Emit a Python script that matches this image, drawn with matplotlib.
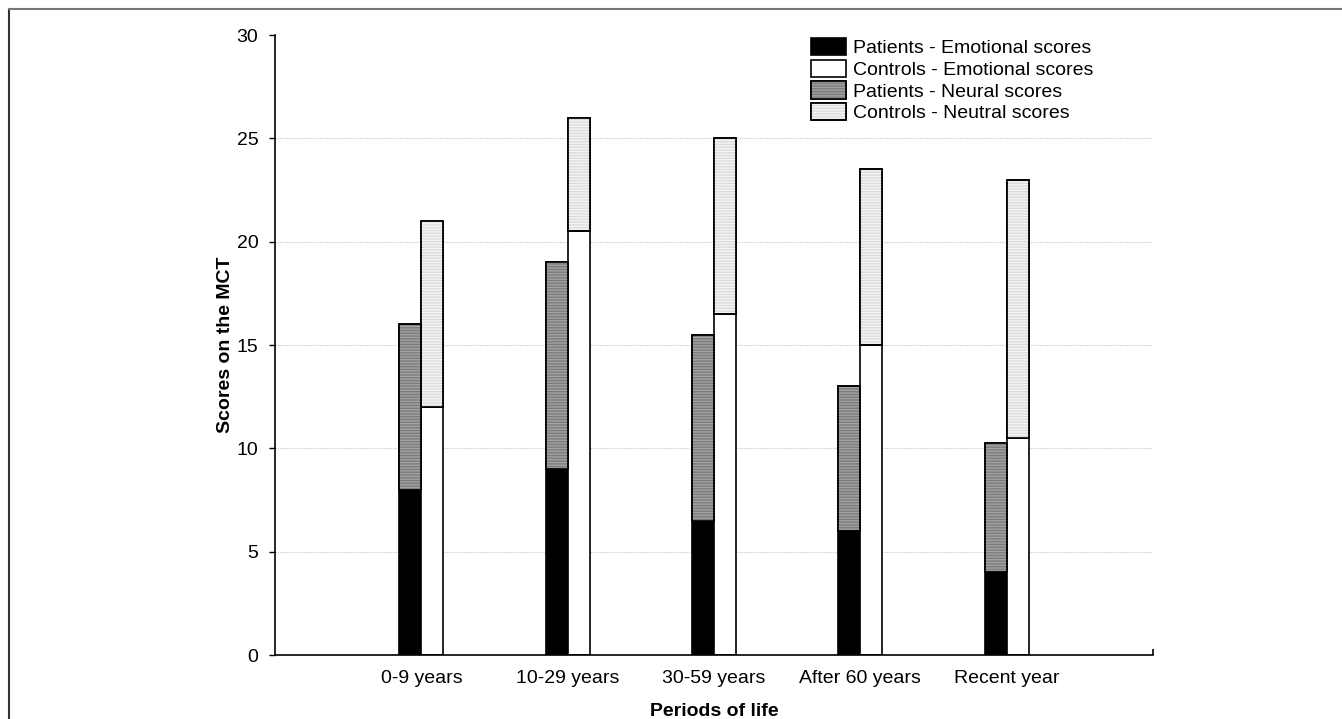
#! /usr/bin/env python3

'''
Stacked bar chart of MCT scores for patients and controls over periods of life
'''

import matplotlib.pyplot as plt
from matplotlib.patches import Patch
from matplotlib.lines import Line2D
from matplotlib.legend_handler import HandlerTuple
import numpy as np


periods = ['0-9 years', '10-29 years', '30-59 years', 'After 60 years', 'Recent year']

patients_emotional = [8, 9, 6.5, 6, 4]
patients_neutral = [8, 10, 9, 7, 6.25]
controls_emotional = [12, 20.5, 16.5, 15, 10.5]
controls_neutral = [9, 5.5, 8.5, 8.5, 12.5]

legend_labels = ['Patients - Emotional scores', 'Controls - Emotional scores',
                 'Patients - Neural scores', 'Controls - Neutral scores']

y_ticks = [0, 5, 10, 15, 20, 25, 30]

HATCH = '------'


def striped_bar(ax, x, height, bottom, face, stripe, width):
    # base bar, then an overlay carrying the stripes, then the black outline
    ax.bar(x, height, width, bottom=bottom, color=face, edgecolor='black',
           linewidth=1.2, align='edge', zorder=2)
    ax.bar(x, height, width, bottom=bottom, facecolor='none', edgecolor=stripe,
           linewidth=0, hatch=HATCH, align='edge', zorder=3)
    ax.bar(x, height, width, bottom=bottom, facecolor='none', edgecolor='black',
           linewidth=1.2, align='edge', zorder=4)


def striped_handle(face, stripe):
    return (Patch(facecolor=face, edgecolor='black', linewidth=1.2),
            Patch(facecolor='none', edgecolor=stripe, linewidth=0, hatch=HATCH),
            Patch(facecolor='none', edgecolor='black', linewidth=1.2))


def main():
    plt.rcParams['font.family'] = ['Liberation Sans', 'DejaVu Sans']
    plt.rcParams['hatch.linewidth'] = 1.0

    fig = plt.figure(figsize=(13.42, 7.19), dpi=100, facecolor='white')
    ax = fig.add_axes([0.2049, 0.089, 0.8592 - 0.2049, 0.9513 - 0.089])

    x = np.arange(len(periods))
    w = 0.15

    # gridlines
    ax.hlines(y_ticks[1:-1], -1, 5, colors='#c8c8c8', linestyles=(0, (1, 1)),
              linewidth=0.8, zorder=1)

    # patients: emotional at the bottom, neutral on top
    ax.bar(x - w, patients_emotional, w, color='black', edgecolor='black',
           linewidth=1.2, align='edge', zorder=2)
    striped_bar(ax, x - w, patients_neutral, patients_emotional,
                '#7c7c7c', '#a2a2a2', w)

    # controls
    ax.bar(x, controls_emotional, w, color='white', edgecolor='black',
           linewidth=1.2, align='edge', zorder=2)
    striped_bar(ax, x, controls_neutral, controls_emotional,
                '#dcdcdc', '#f4f4f4', w)

    ax.set_xlim(-1, 5)
    ax.set_ylim(0, 30)
    ax.set_yticks(y_ticks)
    ax.set_xticks(x)
    ax.set_xticklabels(periods)
    ax.set_xticks([5], minor=True)
    ax.tick_params(axis='x', which='major', length=0, pad=11, labelsize=14)
    ax.tick_params(axis='x', which='minor', length=4, direction='in', width=1.2)
    ax.tick_params(axis='y', length=4, width=1.0, pad=8, labelsize=14)

    for side in ['top', 'right']:
        ax.spines[side].set_visible(False)
    for side in ['left', 'bottom']:
        ax.spines[side].set_linewidth(1.2)

    ax.set_ylabel('Scores on the MCT', fontsize=14, fontweight='bold', labelpad=2)
    ax.set_xlabel('Periods of life', fontsize=14, fontweight='bold', labelpad=11)

    # legend
    handles = [
        Patch(facecolor='black', edgecolor='black', linewidth=1.2),
        Patch(facecolor='white', edgecolor='black', linewidth=1.2),
        striped_handle('#7c7c7c', '#a2a2a2'),
        striped_handle('#dcdcdc', '#f4f4f4'),
    ]
    ax.legend(handles, legend_labels, loc='upper left',
              bbox_to_anchor=(0.602, 1.008), frameon=False, fontsize=14,
              handlelength=1.8, handleheight=1.0, handletextpad=0.35,
              labelspacing=0.12, borderaxespad=0,
              handler_map={tuple: HandlerTuple(ndivide=1, pad=0)})

    # outer frame of the figure (clipped by the image edges)
    fig.add_artist(Line2D([9 / 1342, 9 / 1342], [0, 1 - 9 / 719],
                          transform=fig.transFigure, color='#333333', linewidth=1.5))
    fig.add_artist(Line2D([9 / 1342, 1], [1 - 9 / 719, 1 - 9 / 719],
                          transform=fig.transFigure, color='#777777', linewidth=1.5))

    fig.savefig('out.png', dpi=100, facecolor='white')


if __name__ == '__main__':
    main()
